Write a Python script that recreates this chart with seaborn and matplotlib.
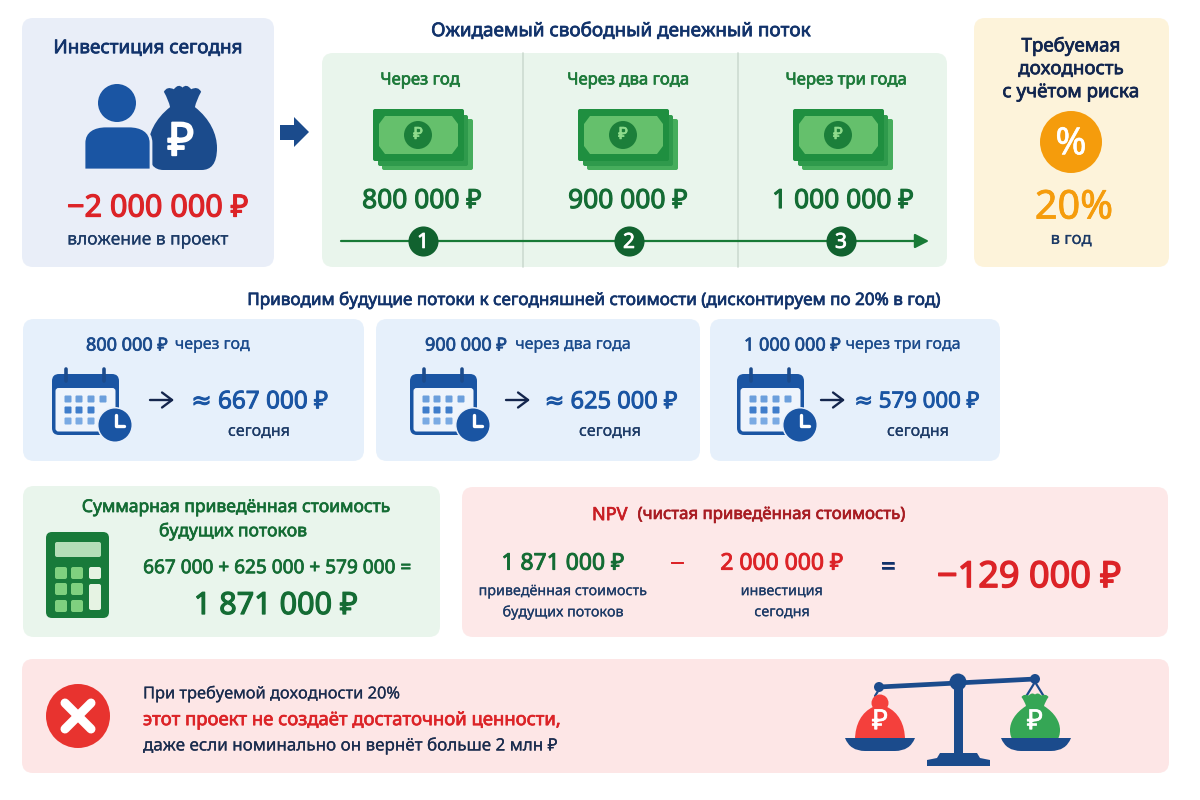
import numpy as np
import pandas as pd
import matplotlib.pyplot as plt
import matplotlib.patheffects as pe
import seaborn as sns
from matplotlib.patches import FancyBboxPatch, Circle, Rectangle, PathPatch, Polygon
from matplotlib.path import Path

# values
investment = 2000000
flows = [800000, 900000, 1000000]
present_values = [667000, 625000, 579000]
pv_sum = 1871000
npv = -129000
rate = 20
period_titles = ['Через год', 'Через два года', 'Через три года']
period_words = ['через год', 'через два года', 'через три года']
steps = [1, 2, 3]
NAVY = '#12336b'
BLUE = '#1a55a3'
BAG = '#1b4b8c'
GREEN = '#146c34'
RED = '#dc2327'
ORANGE = '#f59c0c'

sns.set_theme(style='white')
plt.rcParams['font.family'] = ['Noto Sans', 'DejaVu Sans']

fig = plt.figure(figsize=(12, 8), dpi=100)
ax = fig.add_axes([0, 0, 1, 1])
ax.set_xlim(0, 1200)
ax.set_ylim(800, 0)
ax.axis('off')


def money(v):
    return f'{v:,}'.replace(',', ' ')


def rub(v):
    return money(v) + ' ₽'


def card(x0, y0, x1, y1, color, r=11):
    ax.add_patch(FancyBboxPatch((x0 + r, y0 + r), x1 - x0 - 2 * r, y1 - y0 - 2 * r,
                                boxstyle=f'round,pad={r}', fc=color, ec='none', zorder=1))


def box(x0, y0, x1, y1, color, r=2, z=3):
    ax.add_patch(FancyBboxPatch((x0 + r, y0 + r), x1 - x0 - 2 * r, y1 - y0 - 2 * r,
                                boxstyle=f'round,pad={r}', fc=color, ec='none', zorder=z))


def label(x, y, s, size, color, bold=0.04, ha='center'):
    # the installed Noto Sans only draws at regular weight, a stroke thickens it
    ax.text(x, y + size * 0.16, s, fontsize=size, color=color, ha=ha, va='center', zorder=8,
            path_effects=[pe.withStroke(linewidth=size * bold, foreground=color)])


def bag(cx, top, w, h, color, z=3):
    # money bag with a ruffled neck, drawn in unit coordinates
    shape = [((0.36, 0.26), Path.MOVETO),
             ((0.80, 0.40), Path.CURVE4), ((1.0, 0.58), Path.CURVE4), ((1.0, 0.74), Path.CURVE4),
             ((1.0, 0.93), Path.CURVE4), ((0.82, 1.0), Path.CURVE4), ((0.55, 1.0), Path.CURVE4),
             ((-0.55, 1.0), Path.LINETO),
             ((-0.82, 1.0), Path.CURVE4), ((-1.0, 0.93), Path.CURVE4), ((-1.0, 0.74), Path.CURVE4),
             ((-1.0, 0.58), Path.CURVE4), ((-0.80, 0.40), Path.CURVE4), ((-0.36, 0.26), Path.CURVE4),
             ((-0.40, 0.18), Path.CURVE3), ((-0.54, 0.08), Path.CURVE3),
             ((-0.45, 0.01), Path.CURVE3), ((-0.25, 0.05), Path.CURVE3),
             ((-0.12, -0.02), Path.CURVE3), ((0.0, 0.03), Path.CURVE3),
             ((0.12, -0.02), Path.CURVE3), ((0.25, 0.05), Path.CURVE3),
             ((0.45, 0.01), Path.CURVE3), ((0.54, 0.08), Path.CURVE3),
             ((0.40, 0.18), Path.CURVE3), ((0.36, 0.26), Path.CURVE3)]
    verts = [(cx + p[0] * w / 2, top + p[1] * h) for p, c in shape]
    codes = [c for p, c in shape]
    ax.add_patch(PathPatch(Path(verts, codes), fc=color, ec='none', lw=0, zorder=z))


def cash(x):
    box(x + 9, 119, x + 100, 170, '#46ad5c', r=2, z=3)
    box(x + 5, 115, x + 95, 166, '#2f9a4c', r=2, z=3)
    box(x, 109, x + 91, 161, '#1f8f40', r=2, z=3)
    ax.add_patch(Polygon([(x + 12, 116), (x + 79, 116), (x + 85, 124), (x + 85, 146), (x + 79, 154),
                          (x + 12, 154), (x + 6, 146), (x + 6, 124)], fc='#65c06c', ec='none', zorder=4))
    ax.add_patch(Circle((x + 45, 135), 14, fc='#1c7f3a', ec='none', zorder=5))
    label(x + 45, 133, '₽', 12, '#8edb8c')


def calendar(dx):
    box(52 + dx, 374, 119 + dx, 435, BLUE, r=7, z=3)
    box(55.5 + dx, 388, 115.5 + dx, 431.5, '#eef4fc', r=3, z=4)
    for rx in (66, 104):
        ax.plot([rx + dx, rx + dx], [369, 381], color=BAG, lw=2.6, solid_capstyle='round', zorder=5)
    rows = [(399, [68, 79, 91, 103], '#6c9fdc'), (410, [68, 79, 91], '#3f7dcb'), (421, [68, 79, 91], '#7aaae3')]
    for ry, xs, c in rows:
        for rx in xs:
            box(rx - 3.5 + dx, ry - 3.5, rx + 3.5 + dx, ry + 3.5, c, r=1, z=5)
    ax.add_patch(Circle((115 + dx, 425), 18, fc='#e8f0fb', ec='none', zorder=5))
    ax.add_patch(Circle((115 + dx, 425), 16.5, fc=BLUE, ec='none', zorder=6))
    ax.plot([116 + dx, 116 + dx, 124 + dx], [415, 426, 426], color='white', lw=2.4, zorder=7)


def long_arrow(x0, x1, y):
    ax.annotate('', xy=(x1, y), xytext=(x0, y), zorder=6,
                arrowprops=dict(arrowstyle='->,head_length=0.6,head_width=0.45', color='#14264d', lw=1.7,
                                shrinkA=0, shrinkB=0))


def pan(cx):
    verts = [(cx - 35, 738), (cx + 35, 738), (cx + 30, 751), (cx + 15, 751), (cx - 15, 751), (cx - 30, 751), (cx - 35, 738)]
    codes = [Path.MOVETO, Path.LINETO, Path.CURVE3, Path.LINETO, Path.LINETO, Path.CURVE3, Path.LINETO]
    ax.add_patch(PathPatch(Path(verts, codes), fc=BAG, ec='none', zorder=4))


# cards
card(22, 18, 274, 267, '#e9eef8')
card(322, 53, 947, 267, '#e9f5ec')
card(974, 18, 1169, 267, '#fdf3da')
card(23, 319, 364, 461, '#e6f0fb')
card(376, 319, 700, 461, '#e6f0fb')
card(710, 319, 1000, 461, '#e6f0fb')
card(23, 486, 440, 637, '#e9f5ec')
card(462, 487, 1168, 637, '#fde8e8')
card(22, 659, 1169, 773, '#fde6e6')

# investment card
label(148, 46, 'Инвестиция сегодня', 13.6, NAVY)
ax.add_patch(Circle((117, 103), 19, fc=BLUE, ec='none', zorder=3))
bag(182.5, 85, 69, 85, BAG, z=3)
body = [(84, 170), (84, 143), (84, 131), (94, 126), (106, 126), (129, 126), (141, 126), (151, 131), (151, 143),
        (151, 170), (84, 170)]
body_codes = [Path.MOVETO, Path.LINETO, Path.CURVE4, Path.CURVE4, Path.CURVE4, Path.LINETO, Path.CURVE4, Path.CURVE4,
              Path.CURVE4, Path.LINETO, Path.CLOSEPOLY]
ax.add_patch(PathPatch(Path(body, body_codes), fc=BLUE, ec='#e9eef8', lw=2, zorder=4))
ax.add_patch(Rectangle((80, 171), 76, 4, fc='#e9eef8', ec='none', zorder=5))
label(181, 138, '₽', 33, 'white')
label(158, 205, '−' + rub(investment), 22, RED)
label(148, 237.5, 'вложение в проект', 12.5, '#1c3a66', bold=0.012)

# big arrow between cards
ax.add_patch(Polygon([(280, 125), (294, 125), (294, 117), (309, 132), (294, 147), (294, 140), (280, 140)],
                     fc=BAG, ec='none', zorder=3))

# future flows
label(621, 29, 'Ожидаемый свободный денежный поток', 13.6, NAVY)
for x in (523, 738):
    ax.plot([x, x], [53, 267], color='#cddbd1', lw=1.2, zorder=2)
title_x = [420, 628, 846]
cash_x = [373, 578, 793]
flow_x = [422, 628, 843]
for i in range(3):
    label(title_x[i], 78.5, period_titles[i], 12, '#1d7a3a')
    cash(cash_x[i])
    label(flow_x[i], 198, rub(flows[i]), 19, GREEN)
ax.annotate('', xy=(929, 241), xytext=(341, 241), zorder=3,
            arrowprops=dict(arrowstyle='-|>,head_length=0.7,head_width=0.36', color='#187a36', lw=1.6,
                            shrinkA=0, shrinkB=0))
badges = pd.DataFrame({'x': [423, 629, 841], 'y': [241, 241, 241]})
sns.scatterplot(data=badges, x='x', y='y', s=470, color='#11622f', linewidth=0, ax=ax, zorder=4, legend=False)
for i in range(3):
    label(badges.x[i], 240, str(steps[i]), 15, 'white')
ax.set_xlabel('')
ax.set_ylabel('')

# required return
for y, s in zip((44, 67, 90), ('Требуемая', 'доходность', 'с учётом риска')):
    label(1071, y, s, 13.5, '#12264f')
ax.add_patch(Circle((1071, 142), 31, fc=ORANGE, ec='none', zorder=3))
label(1071, 140, '%', 27, 'white', bold=0.015)
label(1074, 204, f'{rate}%', 28.5, ORANGE, bold=0.02)
label(1071, 238, 'в год', 12, '#1c3a66', bold=0.012)

# discounting row
label(596, 298.5, f'Приводим будущие потоки к сегодняшней стоимости (дисконтируем по {rate}% в год)', 12.3, NAVY)
head_l = [86, 425, 744]
head_r = [250, 631, 961]
cal_dx = [0, 358, 685]
arrow_x = [150, 506, 821]
pv_x = [260, 611, 917]
pv_size = [17.5, 17, 16]
today_x = [259, 610, 918]
for i in range(3):
    label(head_l[i], 343.5, rub(flows[i]), 13, BAG, ha='left')
    label(head_r[i], 343, period_words[i], 11.5, BAG, bold=0.012, ha='right')
    calendar(cal_dx[i])
    long_arrow(arrow_x[i], arrow_x[i] + 24, 400)
    label(pv_x[i], 399.5, '≈ ' + rub(present_values[i]), pv_size[i], BLUE)
    label(today_x[i], 430, 'сегодня', 11.5, '#1c3a66', bold=0.012)

# sum card
label(236, 505, 'Суммарная приведённая стоимость', 12.6, GREEN)
label(233, 529, 'будущих потоков', 12.6, GREEN)
box(46, 532, 109, 618, '#187a3a', r=6)
box(55, 542, 101, 557, '#b5deb8', r=2, z=4)
for ky in (573, 589, 606):
    for kx in (61, 77):
        box(kx - 6, ky - 6, kx + 6, ky + 6, '#7fd07f', r=2, z=4)
box(89, 567, 101, 579, '#e6f3e3', r=2, z=4)
box(89, 584, 101, 610, '#e6f3e3', r=2, z=4)
label(277, 566, ' + '.join(money(v) for v in present_values) + ' =', 13.7, GREEN)
label(276, 602.5, rub(pv_sum), 22, GREEN)

# NPV card
label(592, 513, 'NPV', 13, '#c81e24', ha='left')
label(904, 513, '(чистая приведённая стоимость)', 12.1, '#a81c22', ha='right')
label(563, 561, rub(pv_sum), 16.5, GREEN)
label(563, 590, 'приведённая стоимость', 10.3, '#1c3a66', bold=0.012)
label(563, 611, 'будущих потоков', 10.3, '#1c3a66', bold=0.012)
label(677, 562, '−', 18, RED)
label(782, 561, rub(investment), 16.5, RED)
label(782, 590, 'инвестиция', 10.3, '#1c3a66', bold=0.012)
label(782, 611, 'сегодня', 10.3, '#1c3a66', bold=0.012)
label(888, 565, '=', 20, NAVY, bold=0.02)
label(1029, 574, '−' + rub(-npv), 26, RED)

# conclusion
ax.add_patch(Circle((78, 716), 32, fc='#e8332f', ec='none', zorder=3))
ax.plot([65, 91], [703, 729], color='white', lw=6.5, solid_capstyle='round', zorder=4)
ax.plot([65, 91], [729, 703], color='white', lw=6.5, solid_capstyle='round', zorder=4)
label(143, 692, f'При требуемой доходности {rate}%', 11.8, '#1a2c4e', bold=0.012, ha='left')
label(143, 718, 'этот проект не создаёт достаточной ценности,', 13.3, RED, ha='left')
label(143, 744, 'даже если номинально он вернёт больше 2 млн ₽', 12.25, '#1a2c4e', bold=0.012, ha='left')

# scales
ax.plot([879, 1035], [687, 679], color=BAG, lw=3.4, zorder=3)
ax.add_patch(Circle((879, 687), 5, fc=BAG, ec='none', zorder=4))
ax.add_patch(Circle((1035, 679), 5, fc=BAG, ec='none', zorder=4))
ax.add_patch(Circle((958, 682), 8.5, fc=BAG, ec='none', zorder=4))
ax.add_patch(Rectangle((954, 685), 8.5, 70, fc=BAG, ec='none', zorder=3))
ax.add_patch(Polygon([(927, 766), (927, 760), (937, 758), (940, 753), (977, 753), (980, 758), (990, 760), (990, 766)],
                     fc=BAG, ec='none', zorder=3))
ax.plot([1027, 1035, 1043], [695, 682, 695], color=BAG, lw=1.6, zorder=3)
ax.plot([875, 880], [696, 688], color=BAG, lw=1.6, zorder=3)
ax.add_patch(Circle((880, 703), 8.5, fc='#f4403c', ec='none', zorder=3))
red_body = [(873, 707), (862, 712), (855, 724), (855, 740), (905, 740), (905, 724), (898, 712), (887, 707), (873, 707)]
red_codes = [Path.MOVETO, Path.CURVE4, Path.CURVE4, Path.CURVE4, Path.LINETO, Path.CURVE4, Path.CURVE4, Path.CURVE4,
             Path.CLOSEPOLY]
ax.add_patch(PathPatch(Path(red_body, red_codes), fc='#f4403c', ec='none', zorder=3))
label(880, 719, '₽', 20, 'white', bold=0.02)
bag(1035, 693, 50, 50, '#35a655', z=3)
label(1035, 719, '₽', 20, 'white', bold=0.02)
pan(880)
pan(1036)

fig.savefig('out.png', dpi=100, facecolor='white')
